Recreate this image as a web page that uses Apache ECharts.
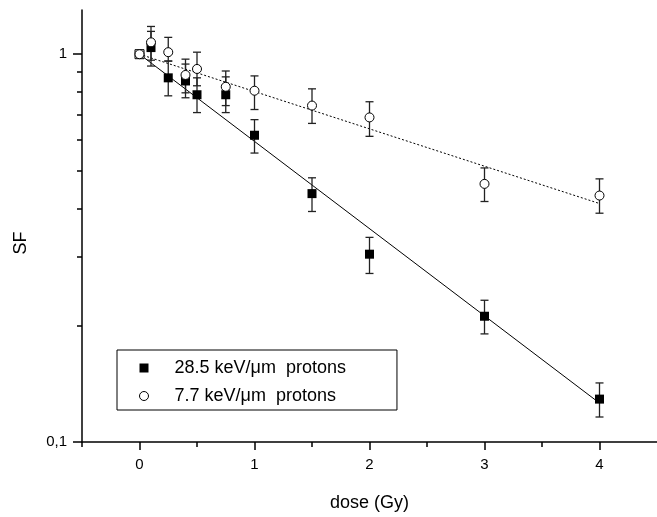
<!DOCTYPE html>
<html>
<head>
<meta charset="utf-8">
<script src="https://cdn.jsdelivr.net/npm/echarts@6/dist/echarts.min.js"></script>
<style>
html,body{margin:0;padding:0;background:#fff;}
#c{width:657px;height:517px;}
</style>
</head>
<body>
<div id="c"></div>
<script>
// ---- data ----
const dose = [0, 0.1, 0.25, 0.4, 0.5, 0.75, 1, 1.5, 2, 3, 4];
const sf28 = [1.0, 1.04, 0.869, 0.853, 0.786, 0.786, 0.618, 0.437, 0.305, 0.211, 0.129];
const lo28 = [null, 0.932, 0.781, 0.772, 0.707, 0.707, 0.556, 0.393, 0.272, 0.190, 0.116];
const hi28 = [null, 1.145, 0.960, 0.943, 0.869, 0.874, 0.678, 0.480, 0.337, 0.232, 0.142];
const sf77 = [1.0, 1.073, 1.012, 0.884, 0.916, 0.824, 0.805, 0.737, 0.687, 0.463, 0.432];
const lo77 = [null, 0.965, 0.960, 0.795, 0.829, 0.737, 0.720, 0.663, 0.614, 0.417, 0.389];
const hi77 = [null, 1.179, 1.105, 0.971, 1.012, 0.905, 0.879, 0.814, 0.754, 0.509, 0.477];
const fitDose = [0, 4];
const fit28 = [1.0, 0.126];
const fit77 = [1.0, 0.412];
const xMajorTicks = [0, 1, 2, 3, 4];
const xMinorTicks = [-0.5, 0.5, 1.5, 2.5, 3.5];
const yMajorTicks = [0.1, 1];
const yMinorTicks = [0.2, 0.3, 0.4, 0.5, 0.6, 0.7, 0.8, 0.9];
const name28 = '28.5 keV/\u03bcm  protons';
const name77 = '7.7 keV/\u03bcm  protons';

const FONT = 'Liberation Sans, Arial, Helvetica, sans-serif';

function errData(lo, hi) {
  const out = [];
  dose.forEach((d, i) => { if (lo[i] != null) out.push([d, lo[i], hi[i]]); });
  return out;
}
function errRender(params, api) {
  const x = api.value(0);
  const a = api.coord([x, api.value(1)]);
  const b = api.coord([x, api.value(2)]);
  const w = 4;
  const st = { stroke: '#222', lineWidth: 1.3 };
  return {
    type: 'group',
    children: [
      { type: 'line', shape: { x1: a[0], y1: a[1], x2: b[0], y2: b[1] }, style: st },
      { type: 'line', shape: { x1: a[0] - w, y1: a[1], x2: a[0] + w, y2: a[1] }, style: st },
      { type: 'line', shape: { x1: b[0] - w, y1: b[1], x2: b[0] + w, y2: b[1] }, style: st }
    ]
  };
}

const chart = echarts.init(document.getElementById('c'));
const axisLineStyle = { color: '#000', width: 1.5 };
chart.setOption({
  animation: false,
  backgroundColor: '#fff',
  grid: { left: 82, top: 10, right: -5, bottom: 70 },
  legend: {
    orient: 'vertical',
    left: 117,
    top: 350,
    padding: [9, 51, 5, 22],
    itemWidth: 9,
    itemHeight: 9,
    itemGap: 10,
    borderColor: '#000',
    borderWidth: 1,
    borderRadius: 0,
    textStyle: { fontFamily: FONT, fontSize: 18, color: '#000', lineHeight: 18, padding: [0, 0, 0, 21] },
    data: [
      { name: name28, icon: 'rect', itemStyle: { color: '#000', borderWidth: 0 } },
      { name: name77, icon: 'circle', itemStyle: { color: '#fff', borderColor: '#000', borderWidth: 1 } }
    ]
  },
  xAxis: [
    {
      type: 'value', min: -0.5, max: 4.5, position: 'bottom',
      name: 'dose (Gy)', nameLocation: 'middle', nameGap: 52,
      nameTextStyle: { fontFamily: FONT, fontSize: 18, color: '#000' },
      axisLine: { show: true, onZero: false, lineStyle: axisLineStyle },
      axisTick: { show: true, customValues: xMajorTicks, length: 8, lineStyle: { color: '#000', width: 1.5 } },
      axisLabel: { show: true, customValues: xMajorTicks, margin: 15, fontFamily: FONT, fontSize: 15, color: '#000' },
      splitLine: { show: false }
    },
    {
      type: 'value', min: -0.5, max: 4.5, position: 'bottom',
      axisLine: { show: false, onZero: false },
      axisTick: { show: true, customValues: xMinorTicks, length: 5, lineStyle: { color: '#000', width: 1.5 } },
      axisLabel: { show: false },
      splitLine: { show: false }
    }
  ],
  yAxis: [
    {
      type: 'log', logBase: 10, min: 0.1, max: 1.3, position: 'left',
      axisLine: { show: true, onZero: false, lineStyle: axisLineStyle },
      axisTick: { show: true, customValues: yMajorTicks, length: 9, lineStyle: { color: '#000', width: 1.5 } },
      axisLabel: {
        show: true, customValues: yMajorTicks, margin: 15, fontFamily: FONT, fontSize: 15, color: '#000',
        formatter: v => (v < 0.5 ? '0,1' : '1')
      },
      splitLine: { show: false }
    },
    {
      type: 'log', logBase: 10, min: 0.1, max: 1.3, position: 'left',
      axisLine: { show: false, onZero: false },
      axisTick: { show: true, customValues: yMinorTicks, length: 5, lineStyle: { color: '#000', width: 1.5 } },
      axisLabel: { show: false },
      splitLine: { show: false }
    }
  ],
  graphic: [
    {
      type: 'text', x: 21, y: 243, rotation: Math.PI / 2,
      style: { text: 'SF', font: '18px ' + FONT, fill: '#000', align: 'center', verticalAlign: 'middle' }
    }
  ],
  series: [
    {
      type: 'line', name: 'fit28', data: fitDose.map((d, i) => [d, fit28[i]]),
      showSymbol: false, symbol: 'none', lineStyle: { color: '#000', width: 1 }, z: 1, silent: true
    },
    {
      type: 'line', name: 'fit77', data: fitDose.map((d, i) => [d, fit77[i]]),
      showSymbol: false, symbol: 'none', lineStyle: { color: '#000', width: 1, type: [2, 2] }, z: 1, silent: true
    },
    { type: 'custom', name: 'err28', data: errData(lo28, hi28), renderItem: errRender, z: 2, silent: true },
    { type: 'custom', name: 'err77', data: errData(lo77, hi77), renderItem: errRender, z: 2, silent: true },
    {
      type: 'scatter', name: name28, symbol: 'rect', symbolSize: 9,
      itemStyle: { color: '#000', opacity: 1 },
      data: dose.map((d, i) => (i === 0
        ? { value: [d, sf28[i]], itemStyle: { color: '#fff', borderColor: '#000', borderWidth: 1 } }
        : [d, sf28[i]])),
      z: 3
    },
    {
      type: 'scatter', name: name77, symbol: 'circle', symbolSize: 9,
      itemStyle: { color: '#fff', borderColor: '#000', borderWidth: 1, opacity: 1 },
      data: dose.map((d, i) => [d, sf77[i]]),
      z: 4
    }
  ]
});
</script>
</body>
</html>
